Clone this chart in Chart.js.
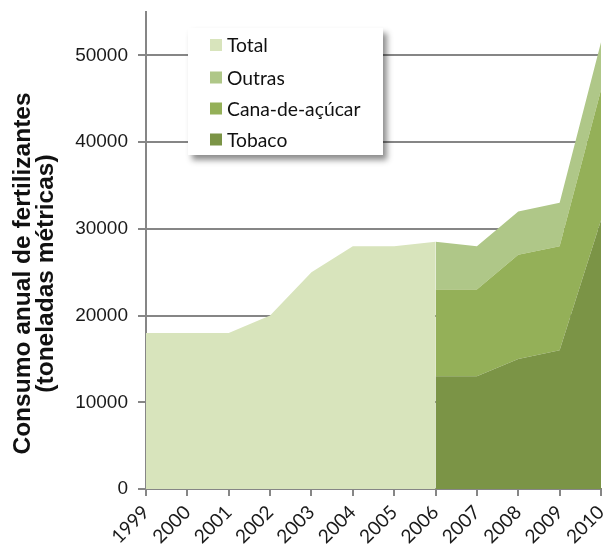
<!DOCTYPE html>
<html><head><meta charset="utf-8">
<script src="https://cdn.jsdelivr.net/npm/chart.js@4/dist/chart.umd.min.js"></script>
<style>html,body{margin:0;padding:0;background:#fff;}#wrap{width:606px;height:544px;position:relative}</style>
</head><body><div id="wrap"><canvas id="c" width="606" height="544"></canvas></div>
<script>
const years = ['1999','2000','2001','2002','2003','2004','2005','2006','2007','2008','2009','2010'];
const totalValues  = [18000,18000,18000,20000,25000,28000,28000,28500,null,null,null,null];
const tobacoValues = [null,null,null,null,null,null,null,13000,13000,15000,16000,31000];
const canaValues   = [null,null,null,null,null,null,null,10000,10000,12000,12000,15000];
const outrasValues = [null,null,null,null,null,null,null,5500,5000,5000,5000,5500];
const yTickValues = [0,10000,20000,30000,40000,50000];
const yMax = 55000;
const yTitleLines = ['Consumo anual de fertilizantes','(toneladas métricas)'];
const legendOrder = ['Total','Outras','Cana-de-açúcar','Tobaco'];

const colors = {
  'Total':'#d8e4bc', 'Outras':'#afc788', 'Cana-de-açúcar':'#94b058', 'Tobaco':'#7b9446'
};
const grey = '#868686';

const overlay = {
  id:'overlay',
  afterDraw(chart){
    const ctx = chart.ctx;
    // y title
    ctx.save();
    ctx.fillStyle = '#111';
    ctx.font = 'bold 24.5px "Liberation Sans", Arial, sans-serif';
    ctx.textAlign = 'center';
    ctx.textBaseline = 'alphabetic';
    const bases = [29.5, 53];
    yTitleLines.forEach((t,i)=>{
      ctx.save();
      ctx.translate(bases[i], 273.5);
      ctx.rotate(-Math.PI/2);
      ctx.fillText(t, 0, 0);
      ctx.restore();
    });
    ctx.restore();
    // legend
    ctx.save();
    const bx=188, by=28, bw=195, bh=127;
    ctx.shadowColor='rgba(0,0,0,0.45)';
    ctx.shadowBlur=6; ctx.shadowOffsetX=4; ctx.shadowOffsetY=5;
    ctx.fillStyle='#fff';
    ctx.fillRect(bx,by,bw,bh);
    ctx.shadowColor='transparent';
    const rows=[45,77.5,108.5,139.5];
    ctx.font='19.3px Lato, sans-serif';
    ctx.textBaseline='middle';
    ctx.textAlign='left';
    legendOrder.forEach((name,i)=>{
      const ds = chart.data.datasets.find(d=>d.label===name);
      ctx.fillStyle = ds.backgroundColor;
      ctx.fillRect(210, rows[i]-6, 12, 12);
      ctx.fillStyle='#111';
      ctx.fillText(name, 227, rows[i]+1);
    });
    ctx.restore();
  }
};

const common = {pointRadius:0, borderWidth:0, tension:0, spanGaps:false};
new Chart(document.getElementById('c'), {
  type:'line',
  data:{
    labels: years,
    datasets:[
      Object.assign({label:'Tobaco', data:tobacoValues, backgroundColor:colors['Tobaco'], fill:'origin', stack:'parts'}, common),
      Object.assign({label:'Cana-de-açúcar', data:canaValues, backgroundColor:colors['Cana-de-açúcar'], fill:'-1', stack:'parts'}, common),
      Object.assign({label:'Outras', data:outrasValues, backgroundColor:colors['Outras'], fill:'-1', stack:'parts'}, common),
      Object.assign({label:'Total', data:totalValues, backgroundColor:colors['Total'], fill:'origin', stack:'total'}, common)
    ]
  },
  options:{
    responsive:false, devicePixelRatio:1, animation:false,
    layout:{padding:{top:12,right:5,left:0,bottom:0}},
    plugins:{legend:{display:false}, tooltip:{enabled:false}, title:{display:false}},
    scales:{
      x:{
        offset:false,
        grid:{drawOnChartArea:false, drawTicks:true, tickLength:7, color:grey, lineWidth:2},
        border:{color:grey, width:2},
        ticks:{minRotation:45, maxRotation:45, autoSkip:false, font:{family:'Lato', size:19}, color:'#1a1a1a', padding:5},
        afterFit(s){ s.height = 55; s.paddingLeft = 0; s.paddingRight = 0; }
      },
      y:{
        stacked:true, min:0, max:yMax,
        afterBuildTicks(s){ s.ticks = yTickValues.map(v=>({value:v})); },
        grid:{color:grey, lineWidth:2, tickLength:8},
        border:{color:grey, width:2},
        ticks:{font:{family:'Liberation Sans', size:19}, color:'#1a1a1a', padding:10, callback:(v)=>String(v)},
        afterFit(s){ s.width = 146; s.paddingTop = 0; s.paddingBottom = 0; }
      }
    }
  },
  plugins:[overlay]
});
</script></body></html>
